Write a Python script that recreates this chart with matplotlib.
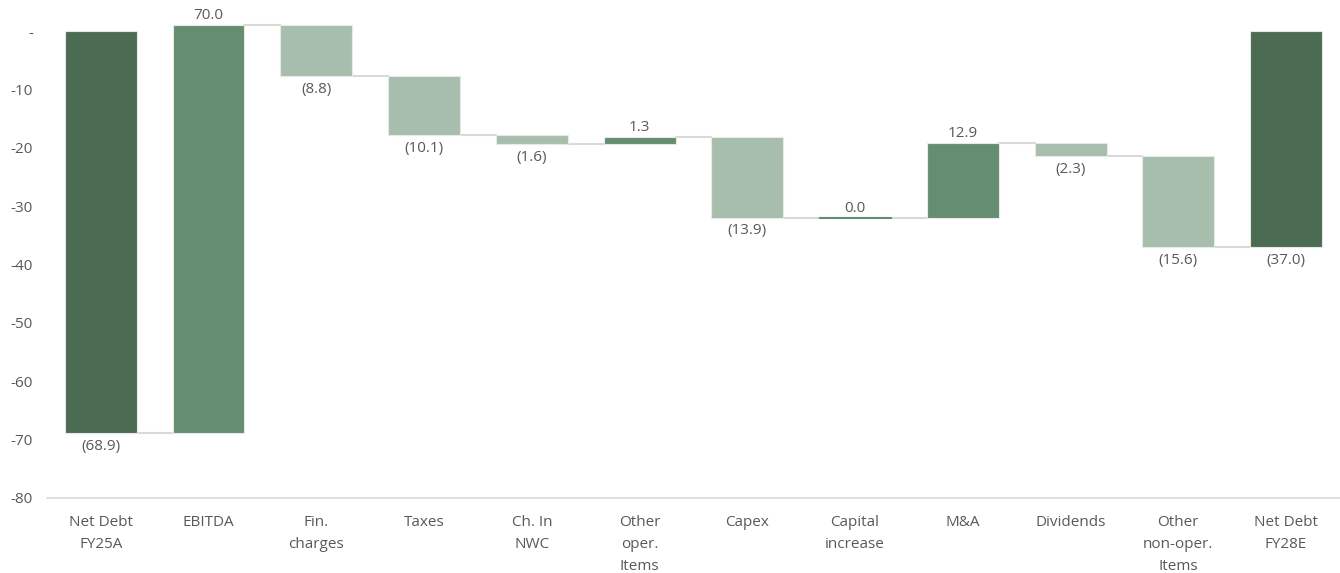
import numpy as np
import matplotlib
matplotlib.use("Agg")
import matplotlib.pyplot as plt

plt.rcParams['font.family'] = ['Open Sans', 'DejaVu Sans']

# données du waterfall
categories = ["Net Debt\nFY25A", "EBITDA", "Fin.\ncharges", "Taxes", "Ch. In\nNWC",
              "Other\noper.\nItems", "Capex", "Capital\nincrease", "M&A", "Dividends",
              "Other\nnon-oper.\nItems", "Net Debt\nFY28E"]
values = [-68.9, 70.0, -8.8, -10.1, -1.6, 1.3, -13.9, 0.0, 12.9, -2.3, -15.6, -37.0]
is_total = [True] + [False] * 10 + [True]

dark = "#4C6B53"
mid = "#648E6F"
light = "#A7BEAD"
grey_txt = "#595959"
line_col = "#D9D9D9"
fs = 11

fig = plt.figure(figsize=(13.4, 5.73), dpi=100)
ax = fig.add_axes([0.035, 0.131, 0.965, 0.8655])

x = np.arange(len(values))
w = 0.667
level = 0.0
ends = []
for i, v in enumerate(values):
    if is_total[i]:
        bottom, top = min(0, v), max(0, v)
        col = dark
        level = v
    else:
        start = level
        level = start + v
        bottom, top = min(start, level), max(start, level)
        col = mid if v >= 0 else light
    h = top - bottom
    ax.bar(x[i], h if h > 0 else 0.15, bottom=bottom, width=w, color=col,
           edgecolor="#E8E8E8" if h > 0 else col, linewidth=0.8, zorder=2)
    ends.append(level)
    # étiquette
    if v >= 0 and not is_total[i]:
        txt = f"{v:.1f}"
        ax.annotate(txt, (x[i], top), xytext=(0, 1), textcoords="offset points",
                    ha="center", va="bottom", fontsize=fs, color=grey_txt)
    else:
        txt = f"({abs(v):.1f})"
        ax.annotate(txt, (x[i], bottom), xytext=(0, -4), textcoords="offset points",
                    ha="center", va="top", fontsize=fs, color=grey_txt)

# lignes de connexion
for i in range(len(values) - 1):
    ax.plot([x[i] + w / 2, x[i + 1] - w / 2], [ends[i], ends[i]],
            color=line_col, lw=1.5, zorder=1)

ax.set_xlim(-0.5, len(values) - 0.5)
ax.set_ylim(-80, 5)
yt = np.arange(-80, 1, 10)
ax.set_yticks(yt)
ax.set_yticklabels(["-" if t == 0 else f"{t}" for t in yt], fontsize=fs, color=grey_txt)
ax.set_xticks(x)
ax.set_xticklabels(categories, fontsize=fs, color=grey_txt, linespacing=1.65)
ax.tick_params(axis="both", length=0)
ax.tick_params(axis="x", pad=12)
ax.tick_params(axis="y", pad=10)
for s in ["top", "right", "left"]:
    ax.spines[s].set_visible(False)
ax.spines["bottom"].set_color(line_col)
ax.spines["bottom"].set_linewidth(1.2)

fig.savefig("out.png", dpi=100)
